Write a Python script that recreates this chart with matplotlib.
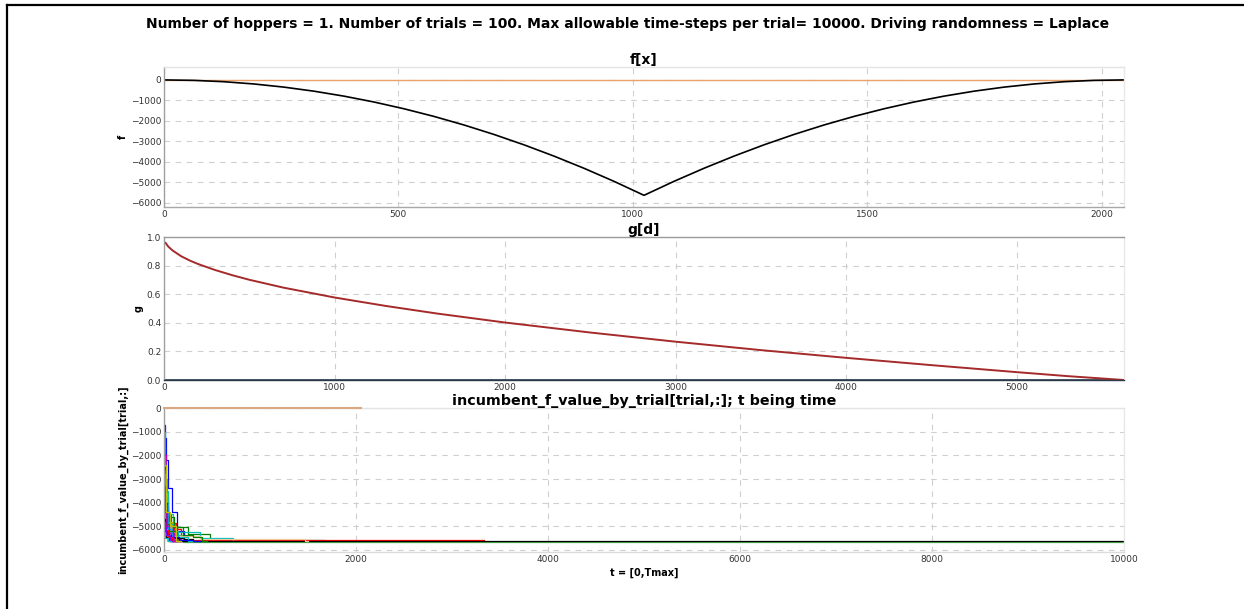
import matplotlib
matplotlib.use("Agg")
import matplotlib.pyplot as plt
from matplotlib.lines import Line2D

# ---- data -------------------------------------------------------------
SUPTITLE = ("Number of hoppers = 1. Number of trials = 100. Max allowable "
            "time-steps per trial= 10000. Driving randomness = Laplace")

# landscape f[x]
F_X = [0, 64, 128, 192, 256, 320, 384, 448, 512, 576, 640, 704, 768, 832, 896, 960,
       1024, 1088, 1152, 1216, 1280, 1344, 1408, 1472, 1536, 1600, 1664, 1728, 1792,
       1856, 1920, 1984, 2048]
F_VAL = [0, -22, -88, -198, -352, -550, -792, -1078, -1408, -1781, -2199, -2661,
         -3167, -3717, -4311, -4948, -5630, -4948, -4311, -3717, -3167, -2661, -2199,
         -1781, -1408, -1078, -792, -550, -352, -198, -88, -22, 0]
F_TOP_X = [0, 2048]
F_TOP_VAL = [0, 0]

# acceptance g[d]
G_D = [0, 10, 25, 50, 100, 150, 200, 300, 400, 500, 700, 1000, 1300, 1600, 2000,
       2500, 3000, 3500, 4000, 4500, 5000, 5300, 5630]
G_VAL = [0.965, 0.958, 0.933, 0.906, 0.866, 0.836, 0.811, 0.769, 0.733, 0.701,
         0.646, 0.577, 0.518, 0.465, 0.402, 0.332, 0.268, 0.209, 0.155, 0.104,
         0.055, 0.027, 0.0]
G_ZERO_D = [0, 5630]
G_ZERO_VAL = [0, 0]

# incumbent f value per trial: step times, values, last time step
TRIAL_T = [
    [0, 8, 20, 40, 85, 140, 210],
    [0, 12, 30, 70, 130, 250, 480],
    [0, 15, 50, 130, 180],
    [0, 6, 15, 35, 90, 380, 720],
    [0, 5, 20, 45, 110, 170],
    [0, 18, 40, 80, 150],
    [0, 25, 80, 200],
    [0, 40, 130, 210, 300],
    [0, 10, 30, 60, 100],
    [0, 20, 60, 100, 140],
    [0, 10, 40, 110],
    [0, 15, 35, 70],
    [0, 30, 75, 120],
    [0, 25, 90, 160],
    [0, 15, 60, 380, 1470],
    [0, 5, 12, 30, 55],
    [0, 20, 100, 200, 300, 400],
    [0, 8, 25, 45, 90],
    [0, 12, 50, 150, 250],
    [0, 20, 50, 100],
    [0, 10, 35],
    [0, 6, 20, 60],
    [0, 5, 15, 40, 80],
    [0, 30, 70, 160, 300],
    [0, 10, 30, 55, 130],
    [0, 12, 40, 80],
    [0, 10, 25, 60],
    [0, 15, 40],
    [0, 8, 30, 90],
    [0, 20, 60, 130],
]
TRIAL_F = [
    [-700, -1270, -2200, -3380, -4400, -5200, -5630],
    [-2950, -3700, -4500, -4900, -5020, -5320, -5600],
    [-3700, -4400, -4870, -5100, -5580],
    [-1000, -1900, -3000, -4500, -5250, -5490, -5630],
    [-650, -2000, -4200, -4900, -5350, -5630],
    [-3000, -4390, -4800, -5300, -5630],
    [-4300, -5000, -5350, -5650],
    [-3700, -5190, -5490, -5560, -5620],
    [-4100, -4700, -5100, -5400, -5630],
    [-4600, -4870, -5000, -5250, -5630],
    [-2200, -3500, -4900, -5630],
    [-4000, -4700, -5100, -5630],
    [-3600, -4900, -5250, -5630],
    [-5000, -5300, -5500, -5630],
    [-4500, -5100, -5400, -5530, -5630],
    [-1200, -2500, -4000, -5000, -5630],
    [-3300, -4600, -5050, -5350, -5450, -5630],
    [-2600, -3800, -4600, -5200, -5630],
    [-3900, -4800, -5200, -5450, -5630],
    [-4400, -5000, -5300, -5630],
    [-5100, -5400, -5630],
    [-4700, -5200, -5450, -5630],
    [-1500, -2800, -4100, -5100, -5630],
    [-5200, -5350, -5450, -5580, -5630],
    [-3800, -4300, -4900, -5200, -5630],
    [-5000, -5150, -5450, -5630],
    [-4800, -5050, -5350, -5630],
    [-5300, -5500, -5630],
    [-3300, -4100, -5000, -5630],
    [-2400, -4400, -5000, -5630],
]
TRIAL_END = [1070, 1680, 3330, 760, 240, 220, 10000, 10000, 180, 200, 160, 120,
             170, 250, 1500, 90, 450, 150, 330, 140, 60, 100, 130, 380, 170, 110,
             95, 70, 150, 180]
TRIAL_COLORS = ['b', 'g', 'r', 'c', 'm', 'y', '#4caf50', 'k', 'b', 'r', 'c', 'm',
                'y', 'k', '#f2c79a', 'b', 'g', 'r', 'c', 'm', 'y', 'k', '#00aaff',
                'b', 'g', 'r', '#8000ff', 'c', 'm', 'y']
INC_TOP_T = [0, 2048]
INC_TOP_VAL = [0, 0]

# ---- figure -----------------------------------------------------------
plt.rcParams['font.family'] = 'DejaVu Sans'
W, H = 1244, 609
fig = plt.figure(figsize=(W / 100, H / 100), dpi=100)
fig.patch.set_facecolor('white')


def ax_at(left, top, right, bottom):
    return fig.add_axes([left / W, 1 - bottom / H, (right - left) / W, (bottom - top) / H])


def style(ax, top_col='#e4e4e4', bottom_col='#a8a8a8'):
    for side in ('left', 'right', 'top', 'bottom'):
        ax.spines[side].set_linewidth(1.0)
    ax.spines['left'].set_color('#a0a0a0')
    ax.spines['right'].set_color('#e8e8e8')
    ax.spines['top'].set_color(top_col)
    ax.spines['bottom'].set_color(bottom_col)
    ax.tick_params(length=0, labelsize=6.5, labelcolor='#333333', pad=2)
    ax.grid(True, color='#cfcfcf', linestyle=(0, (5, 5)), linewidth=0.8)
    ax.set_axisbelow(True)


# f[x]
ax1 = ax_at(164, 67, 1124, 207)
style(ax1)
ax1.plot(F_TOP_X, F_TOP_VAL, color='#e8a26a', lw=1.0)
ax1.plot(F_X, F_VAL, color='black', lw=1.2)
ax1.set_xlim(0, 2048)
ax1.set_ylim(-6200, 630)
ax1.set_xticks([0, 500, 1000, 1500, 2000])
ax1.set_yticks([0, -1000, -2000, -3000, -4000, -5000, -6000])
ax1.set_title('f[x]', fontsize=10, fontweight='bold', pad=2)
ax1.set_ylabel('f', fontsize=7, fontweight='bold', labelpad=2)

# g[d]
ax2 = ax_at(164, 237, 1124, 380)
style(ax2, top_col='#9a9a9a', bottom_col='#2b3a4a')
ax2.plot(G_ZERO_D, G_ZERO_VAL, color='#2b3a4a', lw=1.2)
ax2.plot(G_D, G_VAL, color='#a52a2a', lw=1.4)
ax2.set_xlim(0, 5630)
ax2.set_ylim(0, 1.0)
ax2.set_xticks([0, 1000, 2000, 3000, 4000, 5000])
ax2.set_yticks([0.0, 0.2, 0.4, 0.6, 0.8, 1.0])
ax2.set_title('g[d]', fontsize=10, fontweight='bold', pad=2)
ax2.set_ylabel('g', fontsize=7, fontweight='bold', labelpad=2)

# incumbent f value by trial
ax3 = ax_at(164, 408, 1124, 552)
style(ax3, bottom_col='#dcdcdc')
ax3.plot(INC_TOP_T, INC_TOP_VAL, color='#d9a882', lw=1.5, clip_on=False, zorder=4)
for ts, fs, end, col in zip(TRIAL_T, TRIAL_F, TRIAL_END, TRIAL_COLORS):
    ax3.step(ts + [end], fs + [fs[-1]], where='post', color=col, lw=0.9)
ax3.set_xlim(0, 10000)
ax3.set_ylim(-6090, 10)
ax3.set_xticks([0, 2000, 4000, 6000, 8000, 10000])
ax3.set_yticks([0, -1000, -2000, -3000, -4000, -5000, -6000])
ax3.set_title('incumbent_f_value_by_trial[trial,:]; t being time',
              fontsize=10.3, fontweight='bold', pad=0)
ax3.set_ylabel('incumbent_f_value_by_trial[trial,:]', fontsize=7,
               fontweight='bold', labelpad=2)
ax3.set_xlabel('t = [0,Tmax]', fontsize=7, fontweight='bold', labelpad=3)

fig.text(628 / W, 1 - 24 / H, SUPTITLE, ha='center', va='center',
         fontsize=10, fontweight='bold')

# frame lines along the top and left edge
fig.add_artist(Line2D([7 / W, 1.0], [1 - 5 / H, 1 - 5 / H], color='black', lw=1.6,
                      transform=fig.transFigure))
fig.add_artist(Line2D([7 / W, 7 / W], [0.0, 1 - 5 / H], color='black', lw=1.6,
                      transform=fig.transFigure))

fig.savefig('out.png', dpi=100, facecolor='white')
